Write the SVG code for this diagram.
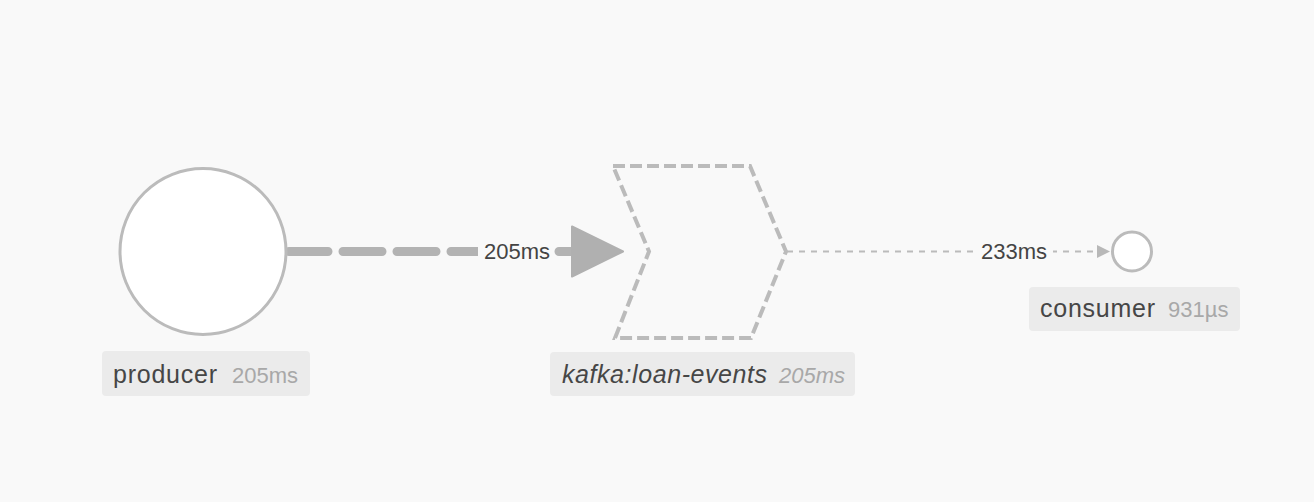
<svg xmlns="http://www.w3.org/2000/svg" width="1314" height="502" viewBox="0 0 1314 502">
  <style>
    .bg { fill: #f9f9f9; }
    .node-shape { fill: #ffffff; stroke: #bbbbbb; stroke-width: 3; }
    .topic { fill: none; stroke: #bbbbbb; stroke-width: 4; stroke-dasharray: 12 5; }
    .lbl-bg { fill: #ebebeb; }
    .name { font-family: "Liberation Sans", Arial, sans-serif; font-size: 25px; fill: #464646; }
    .stat { font-family: "Liberation Sans", Arial, sans-serif; font-size: 22px; fill: #a8a8a8; }
    .edge-lbl { font-family: "Liberation Sans", Arial, sans-serif; font-size: 22px; fill: #444444; text-anchor: middle; }
    .edge-thick { fill: none; stroke: #b3b3b3; stroke-width: 9; stroke-linecap: round; stroke-dasharray: 39 15; }
    .edge-thin { fill: none; stroke: #bbbbbb; stroke-width: 2; stroke-dasharray: 6 6; }
    .ital { font-style: italic; }
  </style>
  <defs>
    <marker id="arrow-big" markerUnits="userSpaceOnUse" markerWidth="56" markerHeight="56" viewBox="0 0 56 56" refX="2" refY="28" orient="auto">
      <path d="M2,3 L53,28 L2,53 Z" fill="#b0b0b0" stroke="#b0b0b0" stroke-width="2" stroke-linejoin="round"/>
    </marker>
    <marker id="arrow-small" markerUnits="userSpaceOnUse" markerWidth="16" markerHeight="16" viewBox="0 0 16 16" refX="1" refY="8" orient="auto">
      <path d="M1,1.5 L14,8 L1,14.5 Z" fill="#b8b8b8"/>
    </marker>
  </defs>
  <rect class="bg" x="0" y="0" width="1314" height="502"/>

  <g id="connectors">
    <g id="edge-producer-kafka">
      <path class="edge-thick" d="M289,251.5 L572,251.5" marker-end="url(#arrow-big)"/>
      <rect class="bg" x="478" y="238" width="76" height="27"/>
      <text class="edge-lbl" x="517" y="258.5">205ms</text>
    </g>
    <g id="edge-kafka-consumer">
      <path class="edge-thin" d="M787,251.5 L1097,251.5" marker-end="url(#arrow-small)"/>
      <rect class="bg" x="975" y="239" width="78" height="25"/>
      <text class="edge-lbl" x="1014" y="258.5">233ms</text>
    </g>
  </g>

  <g id="node-producer">
    <circle class="node-shape" cx="203" cy="251.5" r="83"/>
    <rect class="lbl-bg" x="102" y="351" width="208" height="45" rx="4"/>
    <text x="113" y="383"><tspan class="name" textLength="104" lengthAdjust="spacing">producer</tspan><tspan class="stat" x="232">205ms</tspan></text>
  </g>

  <g id="node-kafka">
    <path class="topic" d="M613,166 L750,166 L786,251.5 L751,338 L615,338 L649,251.5 Z"/>
    <rect class="lbl-bg" x="550" y="352" width="305" height="44" rx="4"/>
    <text x="562" y="383"><tspan class="name ital" textLength="205" lengthAdjust="spacing">kafka:loan-events</tspan><tspan class="stat ital" x="779">205ms</tspan></text>
  </g>

  <g id="node-consumer">
    <circle class="node-shape" cx="1132" cy="251.5" r="19.5"/>
    <rect class="lbl-bg" x="1029" y="287" width="211" height="44" rx="4"/>
    <text x="1040" y="317"><tspan class="name" textLength="115" lengthAdjust="spacing">consumer</tspan><tspan class="stat" x="1168">931µs</tspan></text>
  </g>
</svg>
